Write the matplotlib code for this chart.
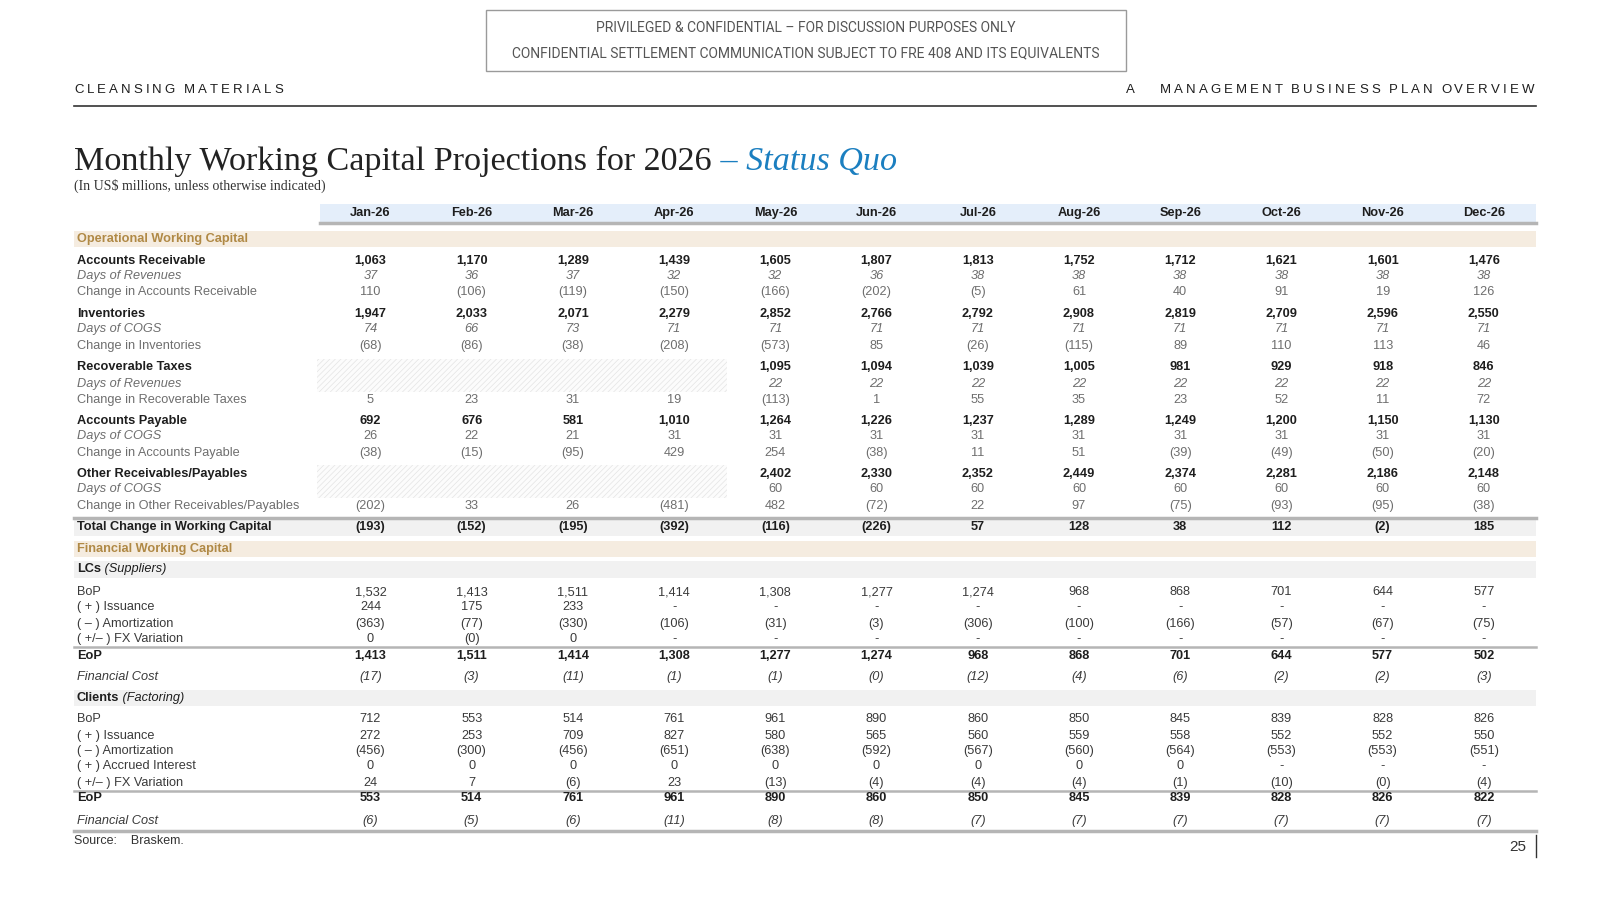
import matplotlib
matplotlib.use("Agg")
import matplotlib.pyplot as plt
from matplotlib.patches import Rectangle

# Table data (US$ millions), None = "-" / no value
months = ["Jan-26", "Feb-26", "Mar-26", "Apr-26", "May-26", "Jun-26",
          "Jul-26", "Aug-26", "Sep-26", "Oct-26", "Nov-26", "Dec-26"]

ar = [1063, 1170, 1289, 1439, 1605, 1807, 1813, 1752, 1712, 1621, 1601, 1476]
ar_days = [37, 36, 37, 32, 32, 36, 38, 38, 38, 38, 38, 38]
ar_chg = [110, -106, -119, -150, -166, -202, -5, 61, 40, 91, 19, 126]

inv = [1947, 2033, 2071, 2279, 2852, 2766, 2792, 2908, 2819, 2709, 2596, 2550]
inv_days = [74, 66, 73, 71, 71, 71, 71, 71, 71, 71, 71, 71]
inv_chg = [-68, -86, -38, -208, -573, 85, -26, -115, 89, 110, 113, 46]

rt = [None, None, None, None, 1095, 1094, 1039, 1005, 981, 929, 918, 846]
rt_days = [None, None, None, None, 22, 22, 22, 22, 22, 22, 22, 22]
rt_chg = [5, 23, 31, 19, -113, 1, 55, 35, 23, 52, 11, 72]

ap = [692, 676, 581, 1010, 1264, 1226, 1237, 1289, 1249, 1200, 1150, 1130]
ap_days = [26, 22, 21, 31, 31, 31, 31, 31, 31, 31, 31, 31]
ap_chg = [-38, -15, -95, 429, 254, -38, 11, 51, -39, -49, -50, -20]

oth = [None, None, None, None, 2402, 2330, 2352, 2449, 2374, 2281, 2186, 2148]
oth_days = [None, None, None, None, 60, 60, 60, 60, 60, 60, 60, 60]
oth_chg = [-202, 33, 26, -481, 482, -72, 22, 97, -75, -93, -95, -38]

total_chg = [-193, -152, -195, -392, -116, -226, 57, 128, 38, 112, -2, 185]

lc_bop = [1532, 1413, 1511, 1414, 1308, 1277, 1274, 968, 868, 701, 644, 577]
lc_iss = [244, 175, 233, None, None, None, None, None, None, None, None, None]
lc_amort = [-363, -77, -330, -106, -31, -3, -306, -100, -166, -57, -67, -75]
lc_fx = [0.2, -0.2, 0.2, None, None, None, None, None, None, None, None, None]
lc_eop = [1413, 1511, 1414, 1308, 1277, 1274, 968, 868, 701, 644, 577, 502]
lc_cost = [-17, -3, -11, -1, -1, -0.3, -12, -4, -6, -2, -2, -3]

cl_bop = [712, 553, 514, 761, 961, 890, 860, 850, 845, 839, 828, 826]
cl_iss = [272, 253, 709, 827, 580, 565, 560, 559, 558, 552, 552, 550]
cl_amort = [-456, -300, -456, -651, -638, -592, -567, -560, -564, -553, -553, -551]
cl_int = [0, 0, 0, 0, 0, 0, 0, 0, 0, None, None, None]
cl_fx = [24, 7, -6, 23, -13, -4, -4, -4, -1, -10, -0.3, -4]
cl_eop = [553, 514, 761, 961, 890, 860, 850, 845, 839, 828, 826, 822]
cl_cost = [-6, -5, -6, -11, -8, -8, -7, -7, -7, -7, -7, -7]


def fmt(v):
    if v is None:
        return "-"
    s = "{:,.0f}".format(abs(v))
    return "(" + s + ")" if v < 0 else s


SANS = ["Liberation Sans", "DejaVu Sans"]
SERIF = ["Liberation Serif", "DejaVu Serif"]
NARROW = ["Liberation Sans Narrow", "Roboto", "DejaVu Sans"]
DARK = "#1e1e1e"
GREY = "#6e6e6e"
GOLD = "#b08945"
BEIGE = "#f5ece0"
BAND = "#f1f1f1"
RULE = "#b5b5b5"
FS = 9.2

fig = plt.figure(figsize=(16.09, 9.05), dpi=100)
ax = fig.add_axes([0, 0, 1, 1])
ax.set_xlim(0, 1568)
ax.set_ylim(882, 0)
ax.axis("off")
plt.rcParams["hatch.linewidth"] = 0.5

X0, X1 = 72, 1497
col_x = [361 + 98.64 * i for i in range(12)]

# confidentiality box
ax.add_patch(Rectangle((474, 10), 623, 59, fill=False, edgecolor="#9a9a9a", lw=1))
ax.text(785, 27, "PRIVILEGED & CONFIDENTIAL \u2013 FOR DISCUSSION PURPOSES ONLY",
        ha="center", va="center", fontsize=10, color="#555555", family=NARROW)
ax.text(785, 52, "CONFIDENTIAL SETTLEMENT COMMUNICATION SUBJECT TO FRE 408 AND ITS EQUIVALENTS",
        ha="center", va="center", fontsize=10, color="#555555", family=NARROW)


def spaced(x, y, s, track=2.2, right=False, size=9.5):
    # draw letter-spaced text one char at a time, chained by offsets
    chars = list(s)
    kw = dict(fontsize=size, color=DARK, family=SANS, va="bottom")
    if not right:
        prev = ax.text(x, y, chars[0], ha="left", **kw)
        extra = 0
        for c in chars[1:]:
            if c == " ":
                extra += 4
                continue
            prev = ax.annotate(c, xy=(1, 0), xycoords=prev, xytext=(track + extra, 0),
                               textcoords="offset points", ha="left", **kw)
            extra = 0
    else:
        chars = chars[::-1]
        prev = ax.text(x, y, chars[0], ha="right", **kw)
        extra = 0
        for c in chars[1:]:
            if c == " ":
                extra += 4
                continue
            prev = ax.annotate(c, xy=(0, 0), xycoords=prev, xytext=(-track - extra, 0),
                               textcoords="offset points", ha="right", **kw)
            extra = 0


spaced(72, 94, "CLEANSING MATERIALS")
spaced(1495, 94, "A    MANAGEMENT BUSINESS PLAN OVERVIEW", right=True)
ax.plot([X0, X1], [103, 103], color="#333333", lw=1.2)

# title
t1 = ax.text(72, 166, "Monthly Working Capital Projections for 2026", fontsize=24.6,
             family=SERIF, color="#222222", va="baseline")
ax.annotate(" \u2013 Status Quo", xy=(1, 0), xycoords=t1, va="bottom", ha="left",
            fontsize=24.6, family=SERIF, style="italic", color="#1b7fc0")
ax.text(72, 181, "(In US$ millions, unless otherwise indicated)", fontsize=10,
        family=SERIF, color="#333333", va="center")

# month header
ax.add_patch(Rectangle((312, 199), X1 - 312, 17, facecolor="#e4eefa", lw=0))
ax.plot([312, X1], [217, 217], color=RULE, lw=2.5)
for x, m in zip(col_x, months):
    ax.text(x, 208, m, ha="center", va="center", fontsize=FS, weight="bold",
            color=DARK, family=SANS)


def band(y, color, h=16):
    ax.add_patch(Rectangle((X0, y - h / 2), X1 - X0, h, facecolor=color, lw=0))


def row(y, label, vals, lw="normal", ls="normal", lc=DARK, vw=None, vs=None, vc=None):
    vw = vw or lw
    vs = vs or ls
    vc = vc or lc
    if label:
        ax.text(75, y, label, ha="left", va="center", fontsize=FS, weight=lw,
                style=ls, color=lc, family=SANS)
    for x, v in zip(col_x, vals):
        if v is None and vals in (rt, rt_days, oth, oth_days):
            continue
        ax.text(x, y, fmt(v), ha="center", va="center", fontsize=FS, weight=vw,
                style=vs, color=vc, family=SANS)


def two_part(y, bold, ital):
    t = ax.text(75, y, bold, ha="left", va="center", fontsize=FS, weight="bold",
                color=DARK, family=SANS)
    ax.annotate(" " + ital, xy=(1, 0.5), xycoords=t, ha="left", va="center",
                fontsize=FS, style="italic", color=DARK, family=SANS)


# operational working capital
band(233, BEIGE)
ax.text(75, 233, "Operational Working Capital", ha="left", va="center", fontsize=FS,
        weight="bold", color=GOLD, family=SANS)

# hatched blanks for recoverable taxes / other receivables
for ytop in (350, 453):
    ax.add_patch(Rectangle((309, ytop), 399, 32, facecolor="#fcfcfc",
                           edgecolor="#e4e4e4", hatch="//////", lw=0))

row(254, "Accounts Receivable", ar, lw="bold")
row(269, "Days of Revenues", ar_days, ls="italic", lc=GREY)
row(285, "Change in Accounts Receivable", ar_chg, lc=GREY)
row(306, "Inventories", inv, lw="bold")
row(321, "Days of COGS", inv_days, ls="italic", lc=GREY)
row(337, "Change in Inventories", inv_chg, lc=GREY)
row(358, "Recoverable Taxes", rt, lw="bold")
row(374, "Days of Revenues", rt_days, ls="italic", lc=GREY)
row(390, "Change in Recoverable Taxes", rt_chg, lc=GREY)
row(410, "Accounts Payable", ap, lw="bold")
row(425, "Days of COGS", ap_days, ls="italic", lc=GREY, vs="normal")
row(441, "Change in Accounts Payable", ap_chg, lc=GREY)
row(462, "Other Receivables/Payables", oth, lw="bold")
row(477, "Days of COGS", oth_days, ls="italic", lc=GREY, vs="normal")
row(493, "Change in Other Receivables/Payables", oth_chg, lc=GREY)

# total change
band(514, BAND)
ax.plot([X0, X1], [505, 505], color=RULE, lw=2.5)
row(514, "Total Change in Working Capital", total_chg, lw="bold")

# financial working capital
band(535, BEIGE)
ax.text(75, 535, "Financial Working Capital", ha="left", va="center", fontsize=FS,
        weight="bold", color=GOLD, family=SANS)

band(555, BAND)
two_part(555, "LCs", "(Suppliers)")
row(577, "BoP", lc_bop, lc="#3a3a3a")
row(592, "( + ) Issuance", lc_iss, lc="#3a3a3a")
row(608, "( \u2013 ) Amortization", lc_amort, lc="#3a3a3a")
row(623, "( +/\u2013 ) FX Variation", lc_fx, lc="#3a3a3a")
ax.plot([X0, X1], [631, 631], color=RULE, lw=1.8)
row(639, "EoP", lc_eop, lw="bold")
row(660, "Financial Cost", lc_cost, ls="italic", lc="#3a3a3a")

band(680, BAND)
two_part(680, "Clients", "(Factoring)")
row(701, "BoP", cl_bop, lc="#3a3a3a")
row(717, "( + ) Issuance", cl_iss, lc="#3a3a3a")
row(732, "( \u2013 ) Amortization", cl_amort, lc="#3a3a3a")
row(747, "( + ) Accrued Interest", cl_int, lc="#3a3a3a")
row(763, "( +/\u2013 ) FX Variation", cl_fx, lc="#3a3a3a")
ax.plot([X0, X1], [771, 771], color=RULE, lw=1.8)
row(778, "EoP", cl_eop, lw="bold")
row(800, "Financial Cost", cl_cost, ls="italic", lc="#3a3a3a")
ax.plot([X0, X1], [810, 810], color=RULE, lw=2.5)

# footer
ax.text(72, 820, "Source:    Braskem.", ha="left", va="center", fontsize=9,
        color="#333333", family=SANS)
ax.text(1487, 825, "25", ha="right", va="center", fontsize=11, color="#333333",
        family=SANS)
ax.plot([1497, 1497], [814, 835], color="#333333", lw=1)

fig.savefig("out.png", dpi=100)
